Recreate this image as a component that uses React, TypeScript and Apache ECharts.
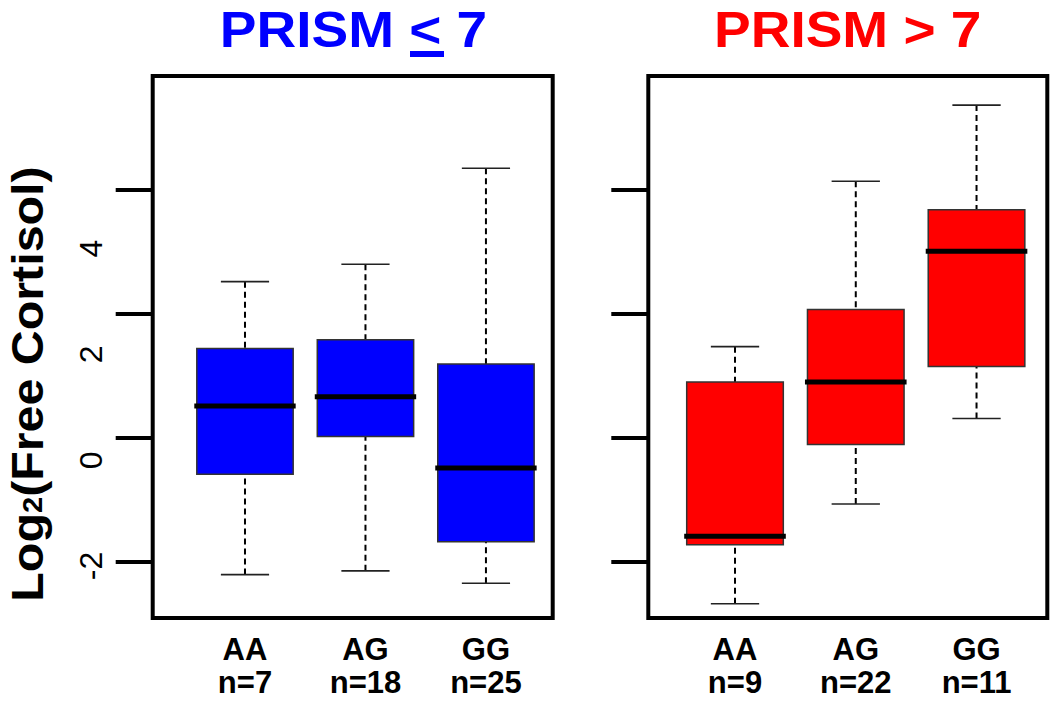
import React, { useEffect, useRef } from "react";
import * as echarts from "echarts";

// ---- data ----
const genotypes = ["AA", "AG", "GG"];
const lowN = [7, 18, 25];
const highN = [9, 22, 11];

// PRISM <= 7 : [min, Q1, median, Q3, max]
const lowMin = [-2.21, -2.15, -2.35];
const lowQ1 = [-0.59, 0.02, -1.68];
const lowMed = [0.51, 0.66, -0.49];
const lowQ3 = [1.44, 1.58, 1.19];
const lowMax = [2.52, 2.8, 4.35];

// PRISM > 7
const highMin = [-2.68, -1.07, 0.31];
const highQ1 = [-1.73, -0.11, 1.15];
const highMed = [-1.59, 0.9, 3.01];
const highQ3 = [0.9, 2.07, 3.68];
const highMax = [1.47, 4.14, 5.37];

const yTickValues = [-2, 0, 2, 4];
const yLabelValues = [-2, 0, 2, 4];

const FONT = '"Liberation Sans", Arial, Helvetica, sans-serif';

function buildRows(mn: number[], q1: number[], md: number[], q3: number[], mx: number[]) {
  return genotypes.map((_, i) => [i + 1, mn[i], q1[i], md[i], q3[i], mx[i]]);
}

function makeRenderItem(color: string) {
  return (params: any, api: any) => {
    const x = api.value(0);
    const pLo = api.coord([x, api.value(1)]);
    const pQ1 = api.coord([x, api.value(2)]);
    const pMed = api.coord([x, api.value(3)]);
    const pQ3 = api.coord([x, api.value(4)]);
    const pHi = api.coord([x, api.value(5)]);
    const half = api.size([0.8, 0])[0] / 2;
    const cap = half / 2;
    const cx = pMed[0];
    const dash = { stroke: "#000", lineWidth: 2, lineDash: [6, 4], fill: null };
    const capStyle = { stroke: "#222", lineWidth: 1.6, fill: null };
    return {
      type: "group",
      children: [
        { type: "line", shape: { x1: cx, y1: pHi[1], x2: cx, y2: pQ3[1] }, style: dash },
        { type: "line", shape: { x1: cx, y1: pLo[1], x2: cx, y2: pQ1[1] }, style: dash },
        { type: "line", shape: { x1: cx - cap, y1: pHi[1], x2: cx + cap, y2: pHi[1] }, style: capStyle },
        { type: "line", shape: { x1: cx - cap, y1: pLo[1], x2: cx + cap, y2: pLo[1] }, style: capStyle },
        {
          type: "rect",
          shape: { x: cx - half, y: pQ3[1], width: half * 2, height: pQ1[1] - pQ3[1] },
          style: { fill: color, stroke: "#333", lineWidth: 1.5 },
        },
        {
          type: "line",
          shape: { x1: cx - half - 2.5, y1: pMed[1], x2: cx + half + 2.5, y2: pMed[1] },
          style: { stroke: "#000", lineWidth: 5 },
        },
      ],
    };
  };
}

function xAxisFor(gridIndex: number, min: number, max: number, ns: number[]) {
  return {
    type: "value",
    gridIndex,
    min,
    max,
    axisLine: { show: false },
    axisTick: { show: false },
    splitLine: { show: false },
    axisLabel: {
      customValues: [1, 2, 3],
      margin: 15,
      formatter: (v: number) => {
        const i = Math.round(v) - 1;
        return `{g|${genotypes[i]}}\n{g|n=${ns[i]}}`;
      },
      rich: {
        g: { fontSize: 31, fontWeight: "bold", fontFamily: FONT, color: "#000", lineHeight: 33 },
      },
    },
  };
}

function yTickAxis(gridIndex: number) {
  return {
    type: "value",
    gridIndex,
    min: -2.911,
    max: 5.84,
    axisLine: { show: false },
    splitLine: { show: false },
    axisTick: {
      show: true,
      customValues: yTickValues,
      length: 37,
      lineStyle: { color: "#000", width: 4 },
    },
    axisLabel: { show: false },
  };
}

export default function App() {
  const ref = useRef<HTMLDivElement>(null);
  useEffect(() => {
    if (!ref.current) return;
    const chart = echarts.init(ref.current, null, { renderer: "svg" });
    const option: any = {
      animation: false,
      backgroundColor: "#fff",
      grid: [
        { left: 152.7, top: 76, width: 400, height: 542, show: true, borderColor: "#000", borderWidth: 4, backgroundColor: "transparent" },
        { left: 648.3, top: 76, width: 399, height: 542, show: true, borderColor: "#000", borderWidth: 4, backgroundColor: "transparent" },
      ],
      xAxis: [xAxisFor(0, 0.234, 3.554, lowN), xAxisFor(1, 0.282, 3.586, highN)],
      yAxis: [
        yTickAxis(0),
        yTickAxis(1),
        {
          type: "value",
          gridIndex: 0,
          position: "left",
          min: -2.982,
          max: 7.264,
          axisLine: { show: false },
          axisTick: { show: false },
          splitLine: { show: false },
          axisLabel: {
            customValues: yLabelValues,
            rotate: 90,
            margin: 46,
            fontSize: 32,
            fontFamily: FONT,
            color: "#000",
          },
        },
      ],
      series: [
        {
          type: "custom",
          xAxisIndex: 0,
          yAxisIndex: 0,
          renderItem: makeRenderItem("#0000FF"),
          encode: { x: 0, y: [1, 2, 3, 4, 5] },
          data: buildRows(lowMin, lowQ1, lowMed, lowQ3, lowMax),
        },
        {
          type: "custom",
          xAxisIndex: 1,
          yAxisIndex: 1,
          renderItem: makeRenderItem("#FF0000"),
          encode: { x: 0, y: [1, 2, 3, 4, 5] },
          data: buildRows(highMin, highQ1, highMed, highQ3, highMax),
        },
      ],
      graphic: [
        {
          type: "text",
          x: 353.5,
          y: 9,
          scaleX: 1.1,
          style: { text: "PRISM < 7", font: `bold 50px ${FONT}`, lineHeight: 40, fill: "#0000FF", align: "center", verticalAlign: "top" },
        },
        { type: "rect", shape: { x: 410, y: 51, width: 34, height: 6 }, style: { fill: "#0000FF" } },
        {
          type: "text",
          x: 847.7,
          y: 9,
          scaleX: 1.1,
          style: { text: "PRISM > 7", font: `bold 50px ${FONT}`, lineHeight: 40, fill: "#FF0000", align: "center", verticalAlign: "top" },
        },
        {
          type: "text",
          x: 28,
          y: 384,
          rotation: Math.PI / 2,
          scaleX: 1.075,
          style: {
            text: "{a|Log}{s|2}{a|(Free Cortisol)}",
            align: "center",
            verticalAlign: "middle",
            rich: {
              a: { fontSize: 45, fontWeight: "bold", fontFamily: FONT, fill: "#000", lineHeight: 36 },
              s: { fontSize: 27, fontWeight: "bold", fontFamily: FONT, fill: "#000", lineHeight: 36, verticalAlign: "bottom" },
            },
          },
        },
      ],
    };
    chart.setOption(option);
    return () => chart.dispose();
  }, []);
  return <div ref={ref} style={{ position: "absolute", left: 0, top: 0, width: 1050, height: 703 }} />;
}
